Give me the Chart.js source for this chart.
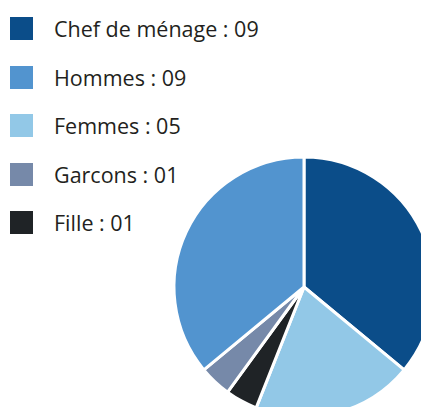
<!DOCTYPE html>
<html lang="fr">
<head>
  <meta charset="UTF-8">
  <title>Composition du ménage</title>
  <style>
    html, body {
      margin: 0;
      padding: 0;
      background: #fff;
      overflow: hidden;
      width: 421px;
      height: 407px;
      position: relative;
      font-family: "Open Sans", "Noto Sans", sans-serif;
      color: #231f20;
    }
    .legend {
      position: absolute;
      left: 10px;
      top: 17px;
      margin: 0;
      padding: 0;
      list-style: none;
    }
    .legend li {
      display: flex;
      align-items: center;
      height: 23px;
      line-height: 23px;
      margin-bottom: 25.5px;
      font-size: 21.5px;
      white-space: nowrap;
    }
    .legend .box {
      width: 23px;
      height: 23px;
      margin-right: 21px;
      flex: none;
    }
    .chart-box {
      position: absolute;
      left: 154px;
      top: 137px;
      width: 300px;
      height: 300px;
    }
  </style>
</head>
<body>
  <ul class="legend" id="legend"></ul>
  <div class="chart-box">
    <canvas id="pie"></canvas>
  </div>

  <script src="https://cdn.jsdelivr.net/npm/chart.js"></script>
  <script>
    // Household members
    const categories = ['Chef de ménage', 'Hommes', 'Femmes', 'Garcons', 'Fille'];
    const counts = [9, 9, 5, 1, 1];
    const colors = ['#0b4d89', '#5294cf', '#92c8e7', '#7689a9', '#1f2326'];
    // clockwise order of the slices, starting at 12 o'clock
    const pieOrder = [0, 2, 4, 3, 1];

    // Legend
    const legend = document.getElementById('legend');
    categories.forEach((name, i) => {
      const li = document.createElement('li');
      const box = document.createElement('span');
      box.className = 'box';
      box.style.background = colors[i];
      li.appendChild(box);
      li.appendChild(document.createTextNode(name + ' : ' + String(counts[i]).padStart(2, '0')));
      legend.appendChild(li);
    });

    // Pie
    const ctx = document.getElementById('pie').getContext('2d');
    new Chart(ctx, {
      type: 'pie',
      data: {
        labels: pieOrder.map(i => categories[i]),
        datasets: [{
          data: pieOrder.map(i => counts[i]),
          backgroundColor: pieOrder.map(i => colors[i]),
          borderColor: '#ffffff',
          borderWidth: 3
        }]
      },
      options: {
        responsive: true,
        maintainAspectRatio: false,
        animation: false,
        radius: 130,
        plugins: {
          legend: { display: false },
          tooltip: { enabled: false }
        }
      }
    });
  </script>
</body>
</html>
